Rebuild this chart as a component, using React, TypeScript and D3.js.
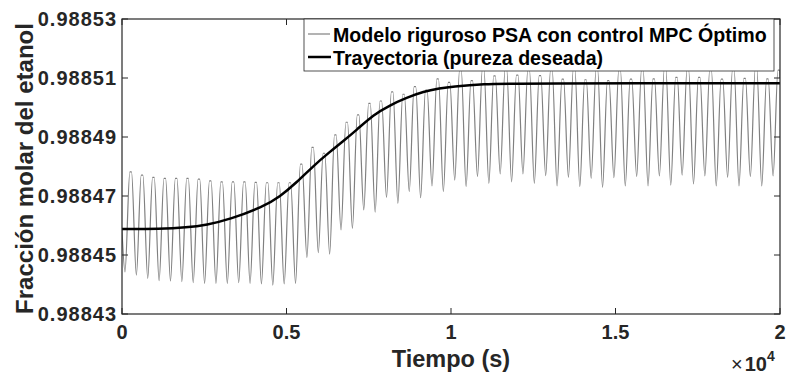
import React from 'react';
import * as d3 from 'd3';

// ---------- data ----------
const xTicks = [0, 5000, 10000, 15000, 20000];
const xTickLabels = ['0', '0.5', '1', '1.5', '2'];
const yTicks = [0.98843, 0.98845, 0.98847, 0.98849, 0.98851, 0.98853];
const yTickLabels = ['0.98843', '0.98845', '0.98847', '0.98849', '0.98851', '0.98853'];

const seriesNames = ['Modelo riguroso PSA con control MPC Óptimo', 'Trayectoria (pureza deseada)'];

// PSA cycles: first trough time and cycle length (s)
const cycleStart = 91;
const cyclePeriod = 345.6;
const plateauHalfWidth = 25;
const psaStartValue = 0.9884585;
const psaEndValue = 0.98851;

const troughValues = [
  0.9884443, 0.9884432, 0.9884421, 0.9884413, 0.9884412, 0.988441, 0.9884406, 0.9884404, 0.9884404, 0.9884404,
  0.9884406, 0.9884404, 0.9884402, 0.9884398, 0.9884402, 0.9884404, 0.9884492, 0.9884508, 0.9884503, 0.9884585,
  0.988459, 0.9884653, 0.9884645, 0.9884695, 0.9884675, 0.9884715, 0.9884694, 0.9884734, 0.9884715, 0.9884754,
  0.9884732, 0.9884766, 0.9884743, 0.9884775, 0.9884748, 0.9884775, 0.9884743, 0.9884769, 0.9884734, 0.9884763,
  0.9884732, 0.988476, 0.9884729, 0.9884762, 0.9884734, 0.9884766, 0.9884734, 0.9884768, 0.9884737, 0.9884771,
  0.9884741, 0.9884768, 0.9884734, 0.9884763, 0.9884734, 0.9884766, 0.9884734, 0.9884768,
];

const peakValues = [
  0.9884782, 0.9884771, 0.9884763, 0.988476, 0.988476, 0.988476, 0.9884757, 0.9884751, 0.9884748, 0.9884748,
  0.9884748, 0.9884746, 0.9884745, 0.9884745, 0.9884745, 0.9884808, 0.9884865, 0.9884845, 0.9884907, 0.988495,
  0.9884975, 0.9885014, 0.9885022, 0.9885053, 0.9885045, 0.9885071, 0.9885059, 0.9885097, 0.9885085, 0.9885128,
  0.9885091, 0.9885128, 0.9885107, 0.9885128, 0.988511, 0.9885128, 0.9885108, 0.9885128, 0.9885096, 0.9885128,
  0.9885094, 0.9885128, 0.9885091, 0.9885128, 0.9885096, 0.9885128, 0.9885097, 0.9885128, 0.9885102, 0.9885128,
  0.9885102, 0.9885128, 0.9885096, 0.9885128, 0.9885099, 0.9885128, 0.9885097, 0.9885127,
];

const trajTimes = [0, 1155, 1966, 2574, 3283, 4295, 4802, 5310, 5815, 6322, 6656, 7134, 7638, 8146, 8653, 9158, 9666, 10030, 10972, 12097, 20000];
const trajValues = [
  0.9884588, 0.9884588, 0.9884593, 0.9884602, 0.9884621, 0.9884664, 0.9884698, 0.9884746, 0.9884802, 0.988485,
  0.988488, 0.9884924, 0.9884975, 0.9885008, 0.9885033, 0.9885054, 0.9885065, 0.9885071, 0.988508, 0.9885082, 0.9885082,
];

// ---------- layout ----------
const W = 786;
const H = 377;
const PL = 122;
const PR = 780;
const PT = 19;
const PB = 314;
const AX = '#262626';
const FONT = '"Liberation Sans", Arial, Helvetica, sans-serif';

export default function App() {
  const x = d3.scaleLinear().domain([0, 20000]).range([PL, PR]);
  const y = d3.scaleLinear().domain([0.98843, 0.98853]).range([PB, PT]);

  const psaPts: [number, number][] = [[0, psaStartValue]];
  troughValues.forEach((tv, k) => {
    const t = cycleStart + k * cyclePeriod;
    psaPts.push([t, tv]);
    const pc = t + cyclePeriod / 2;
    psaPts.push([pc - plateauHalfWidth, peakValues[k]]);
    psaPts.push([pc + plateauHalfWidth, peakValues[k]]);
  });
  psaPts.push([20000, psaEndValue]);

  const psaLine = d3
    .line<[number, number]>()
    .x((d) => x(d[0]))
    .y((d) => y(d[1]))
    .curve(d3.curveMonotoneX);

  const trajLine = d3
    .line<[number, number]>()
    .x((d) => x(d[0]))
    .y((d) => y(d[1]))
    .curve(d3.curveBasis);

  const trajPts: [number, number][] = trajTimes.map((t, i) => [t, trajValues[i]]);

  const tickLen = 6;
  const legX = 304;
  const legY = 19;
  const legW = 470;
  const legH = 52;

  return (
    <svg width={W} height={H} style={{ position: 'absolute', left: 0, top: 0, background: '#fff' }} fontFamily={FONT}>
      <defs>
        <clipPath id="plotclip">
          <rect x={PL} y={PT} width={PR - PL} height={PB - PT} />
        </clipPath>
      </defs>
      <rect x={0} y={0} width={W} height={H} fill="#fff" />

      <g clipPath="url(#plotclip)">
        <path d={psaLine(psaPts) || ''} fill="none" stroke="#808080" strokeWidth={1.2} />
        <path d={trajLine(trajPts) || ''} fill="none" stroke="#000" strokeWidth={2.5} />
      </g>

      {/* axes box */}
      <rect x={PL} y={PT} width={PR - PL} height={PB - PT} fill="none" stroke={AX} strokeWidth={1.2} />

      {/* x ticks */}
      {xTicks.map((t, i) => (
        <g key={'xt' + i}>
          <line x1={x(t)} x2={x(t)} y1={PB} y2={PB - tickLen} stroke={AX} strokeWidth={1} />
          <line x1={x(t)} x2={x(t)} y1={PT} y2={PT + tickLen} stroke={AX} strokeWidth={1} />
          <text x={x(t)} y={339} textAnchor="middle" fontSize={20} fontWeight="bold" fill={AX}>
            {xTickLabels[i]}
          </text>
        </g>
      ))}

      {/* y ticks */}
      {yTicks.map((v, i) => (
        <g key={'yt' + i}>
          <line x1={PL} x2={PL + tickLen} y1={y(v)} y2={y(v)} stroke={AX} strokeWidth={1} />
          <line x1={PR} x2={PR - tickLen} y1={y(v)} y2={y(v)} stroke={AX} strokeWidth={1} />
          <text x={117} y={y(v) + 7} textAnchor="end" fontSize={20} fontWeight="bold" letterSpacing={1} fill={AX}>
            {yTickLabels[i]}
          </text>
        </g>
      ))}

      {/* axis labels */}
      <text x={(PL + PR) / 2} y={367} textAnchor="middle" fontSize={23.5} fontWeight="bold" fill={AX}>
        Tiempo (s)
      </text>
      <text transform={`translate(33, ${(PT + PB) / 2 + 2}) rotate(-90)`} textAnchor="middle" fontSize={24} fontWeight="bold" fill={AX}>
        Fracción molar del etanol
      </text>

      {/* exponent */}
      <text x={731} y={371} fontSize={20} fill={AX}>
        <tspan>×</tspan>
        <tspan fontWeight="bold" dx={2}>10</tspan>
        <tspan fontWeight="bold" fontSize={14} dy={-10}>4</tspan>
      </text>

      {/* legend */}
      <rect x={legX} y={legY} width={legW} height={legH} fill="#fff" stroke={AX} strokeWidth={0.8} />
      <line x1={308} x2={330} y1={34} y2={34} stroke="#808080" strokeWidth={1.2} />
      <line x1={308} x2={331} y1={57} y2={57} stroke="#000" strokeWidth={2.5} />
      <text x={333} y={41.5} fontSize={19.6} fontWeight="bold" fill="#000">
        {seriesNames[0]}
      </text>
      <text x={333} y={65} fontSize={19.6} fontWeight="bold" fill="#000">
        {seriesNames[1]}
      </text>
    </svg>
  );
}
